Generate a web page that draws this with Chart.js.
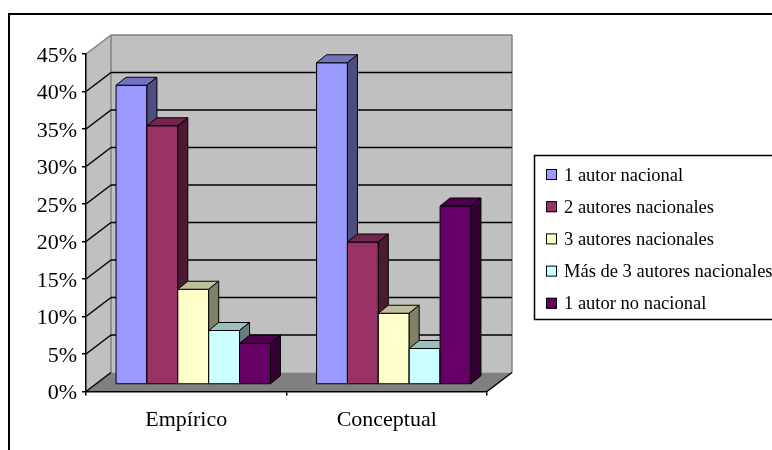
<!DOCTYPE html>
<html>
<head>
<meta charset="utf-8">
<script src="https://cdn.jsdelivr.net/npm/chart.js@4/dist/chart.umd.min.js"></script>
<style>
html,body{margin:0;padding:0;background:#fff}
canvas{display:block}
</style>
</head>
<body>
<canvas id="chart" width="772" height="450"></canvas>
<script>
// categories and series (percent of papers per category)
const categories = ["Empírico", "Conceptual"]
const seriesNames = ["1 autor nacional", "2 autores nacionales", "3 autores nacionales", "Más de 3 autores nacionales", "1 autor no nacional"]
const unAutorNacional = [39.9, 42.9]
const dosAutoresNacionales = [34.5, 19.0]
const tresAutoresNacionales = [12.7, 9.5]
const masDeTresNacionales = [7.2, 4.8]
const unAutorNoNacional = [5.5, 23.8]
const yTicks = [0, 5, 10, 15, 20, 25, 30, 35, 40, 45]

const seriesValues = [unAutorNacional, dosAutoresNacionales, tresAutoresNacionales, masDeTresNacionales, unAutorNoNacional]
const seriesColors = ["#9999FF", "#993366", "#FFFFCC", "#CCFFFF", "#660066"]

const FONT = "'Liberation Serif', 'Times New Roman', serif"

// 3d look
const wallDepth = { dx: 25, dy: -19 }
const barShift = { dx: 7, dy: -7 }
const barDepth = { dx: 10, dy: -8 }

function shade(hex, f){
  const n = parseInt(hex.slice(1), 16)
  const r = Math.round(((n >> 16) & 255) * f)
  const g = Math.round(((n >> 8) & 255) * f)
  const b = Math.round((n & 255) * f)
  return "rgb(" + r + "," + g + "," + b + ")"
}

function poly(ctx, pts, fill, stroke){
  ctx.beginPath()
  ctx.moveTo(pts[0][0], pts[0][1])
  for(let i=1;i<pts.length;i++) ctx.lineTo(pts[i][0], pts[i][1])
  ctx.closePath()
  if(fill){ ctx.fillStyle = fill; ctx.fill() }
  if(stroke){ ctx.strokeStyle = stroke; ctx.stroke() }
}

function line(ctx, x1, y1, x2, y2, color, w){
  ctx.beginPath()
  ctx.moveTo(x1, y1)
  ctx.lineTo(x2, y2)
  ctx.strokeStyle = color
  ctx.lineWidth = w
  ctx.stroke()
}

// walls, floor and gridlines behind the bars
const wallsPlugin = {
  id: "walls",
  beforeDraw(chart){
    const { ctx, chartArea: a, scales: { y } } = chart
    const dx = wallDepth.dx, dy = wallDepth.dy
    ctx.save()
    ctx.lineWidth = 1
    // side wall
    poly(ctx, [[a.left, a.top], [a.left+dx, a.top+dy], [a.left+dx, a.bottom+dy], [a.left, a.bottom]], "#C0C0C0")
    // back wall
    poly(ctx, [[a.left+dx, a.top+dy], [a.right+dx, a.top+dy], [a.right+dx, a.bottom+dy], [a.left+dx, a.bottom+dy]], "#C0C0C0")
    // floor
    poly(ctx, [[a.left, a.bottom], [a.right, a.bottom], [a.right+dx, a.bottom+dy], [a.left+dx, a.bottom+dy]], "#808080")

    // wall edges
    line(ctx, a.left, a.top, a.left+dx, a.top+dy, "#808080", 1.5)
    line(ctx, a.left+dx, a.top+dy, a.right+dx, a.top+dy, "#808080", 1.5)
    line(ctx, a.right+dx, a.top+dy, a.right+dx, a.bottom+dy, "#808080", 1.5)
    line(ctx, a.left+dx, a.top+dy, a.left+dx, a.bottom+dy, "#808080", 1.5)

    yTicks.forEach(v => {
      if(v === yTicks[yTicks.length-1]) return
      const py = y.getPixelForValue(v)
      line(ctx, a.left, py, a.left+dx, py+dy, "#000", 1.5)
      if(v > 0) line(ctx, a.left+dx, py+dy, a.right+dx, py+dy, "#000", 1.5)
    })
    // right edge of the floor
    line(ctx, a.right, a.bottom, a.right+dx, a.bottom+dy, "#000", 1.5)
    ctx.restore()
  }
}

// bars drawn as boxes from the positions the bar controller computed
const barsPlugin = {
  id: "bars3d",
  beforeDatasetsDraw(chart){
    const ctx = chart.ctx
    ctx.save()
    ctx.lineWidth = 1
    ctx.lineJoin = "miter"
    categories.forEach((c, j) => {
      chart.data.datasets.forEach((ds, i) => {
        const el = chart.getDatasetMeta(i).data[j]
        const p = el.getProps(["x", "y", "base", "width"], true)
        const l = p.x - p.width/2 + barShift.dx
        const r = p.x + p.width/2 + barShift.dx
        const t = p.y + barShift.dy
        const b = p.base + barShift.dy
        const col = seriesColors[i]
        const bx = barDepth.dx, by = barDepth.dy
        poly(ctx, [[l, t], [r, t], [r, b], [l, b]], col, "#000")
        poly(ctx, [[l, t], [l+bx, t+by], [r+bx, t+by], [r, t]], shade(col, 0.75), "#000")
        poly(ctx, [[r, t], [r+bx, t+by], [r+bx, b+by], [r, b]], shade(col, 0.5), "#000")
      })
    })
    ctx.restore()
    return false
  }
}

// legend box and outer frame
const framePlugin = {
  id: "frame",
  afterDraw(chart){
    const ctx = chart.ctx
    ctx.save()
    ctx.strokeStyle = "#000"
    ctx.lineWidth = 2
    ctx.strokeRect(9, 14, 800, 500)

    ctx.lineWidth = 1.5
    ctx.strokeRect(534.5, 155.5, 300, 164)
    ctx.font = "18.5px " + FONT
    ctx.textBaseline = "alphabetic"
    ctx.textAlign = "left"
    seriesNames.forEach((name, i) => {
      const base = 180.5 + i * 32.2
      ctx.fillStyle = seriesColors[i]
      ctx.fillRect(546, base - 11.5, 11, 11)
      ctx.lineWidth = 1
      ctx.strokeStyle = "#000"
      ctx.strokeRect(546.5, base - 11, 10, 10)
      ctx.fillStyle = "#000"
      ctx.fillText(name, 564, base)
    })
    ctx.restore()
  }
}

const datasets = seriesNames.map((name, i) => ({
  label: name,
  data: seriesValues[i],
  backgroundColor: seriesColors[i],
  borderColor: "#000",
  borderWidth: 1,
  categoryPercentage: 0.77,
  barPercentage: 1
}))

new Chart(document.getElementById("chart").getContext("2d"), {
  type: "bar",
  data: { labels: categories, datasets: datasets },
  options: {
    responsive: false,
    animation: false,
    layout: { padding: { left: 0, top: 54, right: 285, bottom: 0 } },
    plugins: { legend: { display: false }, tooltip: { enabled: false } },
    scales: {
      x: {
        grid: { drawOnChartArea: false, tickLength: 4, color: "#000", lineWidth: 1.5 },
        border: { color: "#000", width: 1.5 },
        ticks: { font: { family: FONT, size: 22 }, color: "#000", padding: 12 },
        afterFit(s){ s.height = 58.5 }
      },
      y: {
        min: 0,
        max: 45,
        afterBuildTicks(s){ s.ticks = yTicks.map(v => ({ value: v })) },
        ticks: { font: { family: FONT, size: 22 }, color: "#000", padding: 5, labelOffset: 2, callback: v => v + "%" },
        grid: { drawOnChartArea: false, tickLength: 4, color: "#000", lineWidth: 1.5 },
        border: { color: "#000", width: 1.5 },
        afterFit(s){ s.width = 86 }
      }
    }
  },
  plugins: [wallsPlugin, barsPlugin, framePlugin]
})
</script>
</body>
</html>
